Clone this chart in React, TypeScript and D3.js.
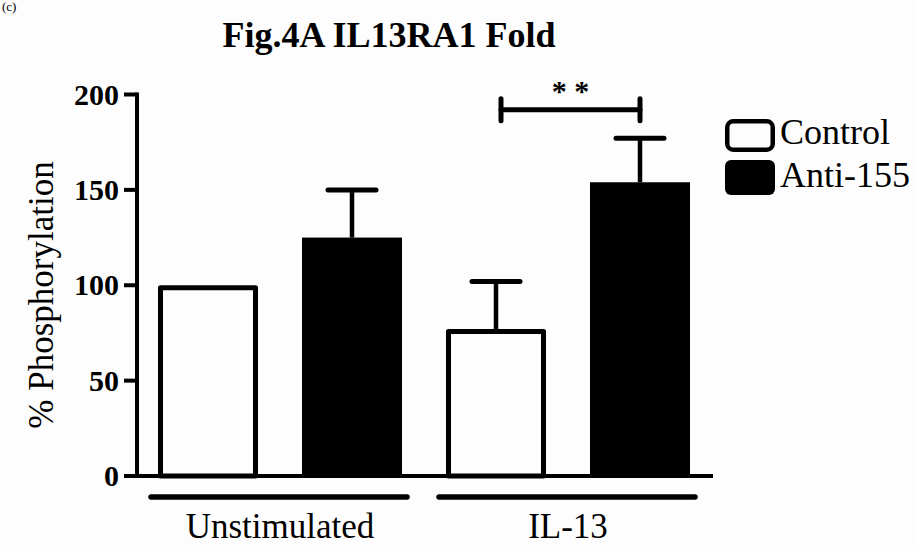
import React, { useEffect, useRef } from "react";
import * as d3 from "d3";

// chart data
const categories = ["Unstimulated", "IL-13"];
const seriesNames = ["Control", "Anti-155"];
const controlMeans = [100, 77];
const controlSem = [0, 25];
const antiMeans = [125, 154];
const antiSem = [25, 23];
const yTicks = [0, 50, 100, 150, 200];
const sigLevel = 192;
const sigLabel = "* *";

const FONT = "'Liberation Serif', 'Times New Roman', serif";

function App() {
    const ref = useRef<SVGSVGElement | null>(null);

    useEffect(() => {
        drawChart();
    }, []);

    function drawChart() {
        const svg = d3.select(ref.current);
        svg.selectAll("*").remove();

        const width = 918;
        const height = 546;

        const bars = categories.flatMap((c, i) => [
            { key: c + "|" + seriesNames[0], cat: c, series: 0, mean: controlMeans[i], sem: controlSem[i] },
            { key: c + "|" + seriesNames[1], cat: c, series: 1, mean: antiMeans[i], sem: antiSem[i] },
        ]);

        const x = d3.scaleBand<string>()
            .domain(bars.map(d => d.key))
            .range([136, 712])
            .paddingInner(0.3056)
            .paddingOuter(0.1528);

        const y = d3.scaleLinear()
            .domain([0, 200])
            .range([476, 94.5]);

        const bw = x.bandwidth();

        svg.attr("width", width).attr("height", height);

        svg.append("rect")
            .attr("width", width)
            .attr("height", height)
            .attr("fill", "#fdfdfd");

        // panel letter in the corner
        svg.append("text")
            .attr("x", 2)
            .attr("y", 11)
            .style("font-family", FONT)
            .style("font-size", "13px")
            .text("(c)");

        // Title
        svg.append("text")
            .attr("x", 389)
            .attr("y", 47)
            .attr("text-anchor", "middle")
            .style("font-family", FONT)
            .style("font-size", "36px")
            .style("font-weight", "bold")
            .text("Fig.4A IL13RA1  Fold");

        // Bars
        const g = svg.append("g");

        g.selectAll("rect.bar")
            .data(bars)
            .enter()
            .append("rect")
            .attr("class", "bar")
            .attr("x", d => d.series === 0 ? x(d.key)! + 2.5 : x(d.key)!)
            .attr("y", d => d.series === 0 ? y(d.mean) + 2.5 : y(d.mean))
            .attr("width", d => d.series === 0 ? bw - 5 : bw)
            .attr("height", d => d.series === 0 ? y(0) - y(d.mean) - 2.5 : y(0) - y(d.mean))
            .attr("fill", d => d.series === 0 ? "#fdfdfd" : "#000")
            .attr("stroke", d => d.series === 0 ? "#000" : "none")
            .attr("stroke-width", 5)
            .attr("stroke-linejoin", "round");

        // Error bars
        const errs = bars.filter(d => d.sem > 0);

        g.selectAll("line.stem")
            .data(errs)
            .enter()
            .append("line")
            .attr("x1", d => x(d.key)! + bw / 2)
            .attr("x2", d => x(d.key)! + bw / 2)
            .attr("y1", d => y(d.mean))
            .attr("y2", d => y(d.mean + d.sem))
            .attr("stroke", "#000")
            .attr("stroke-width", 4.5);

        g.selectAll("line.cap")
            .data(errs)
            .enter()
            .append("line")
            .attr("x1", d => x(d.key)! + bw / 2 - 24)
            .attr("x2", d => x(d.key)! + bw / 2 + 24)
            .attr("y1", d => y(d.mean + d.sem))
            .attr("y2", d => y(d.mean + d.sem))
            .attr("stroke", "#000")
            .attr("stroke-width", 5)
            .attr("stroke-linecap", "round");

        // Axes
        svg.append("line")
            .attr("x1", 137).attr("x2", 137)
            .attr("y1", y(200) - 2).attr("y2", y(0) + 2)
            .attr("stroke", "#000").attr("stroke-width", 4);

        svg.append("line")
            .attr("x1", 135).attr("x2", 713)
            .attr("y1", y(0)).attr("y2", y(0))
            .attr("stroke", "#000").attr("stroke-width", 4);

        const ticks = svg.append("g");
        ticks.selectAll("line")
            .data(yTicks)
            .enter()
            .append("line")
            .attr("x1", 124).attr("x2", 137)
            .attr("y1", d => y(d)).attr("y2", d => y(d))
            .attr("stroke", "#000").attr("stroke-width", 4);

        ticks.selectAll("text")
            .data(yTicks)
            .enter()
            .append("text")
            .attr("x", 119)
            .attr("y", d => y(d) + 10)
            .attr("text-anchor", "end")
            .style("font-family", FONT)
            .style("font-size", "30px")
            .style("font-weight", "bold")
            .text(d => d);

        // Y label
        svg.append("text")
            .attr("transform", "translate(53,295) rotate(-90)")
            .attr("text-anchor", "middle")
            .style("font-family", FONT)
            .style("font-size", "35px")
            .text("% Phosphorylation");

        // Group underlines and labels
        const groups = categories.map(c => {
            const first = x(c + "|" + seriesNames[0])!;
            const last = x(c + "|" + seriesNames[1])!;
            return { cat: c, x1: first - 7, x2: last + bw + 5, mid: (first + last + bw) / 2 };
        });

        svg.selectAll("line.group")
            .data(groups)
            .enter()
            .append("line")
            .attr("x1", d => d.x1).attr("x2", d => d.x2)
            .attr("y1", 497).attr("y2", 497)
            .attr("stroke", "#000").attr("stroke-width", 5.5)
            .attr("stroke-linecap", "round");

        svg.selectAll("text.group")
            .data(groups)
            .enter()
            .append("text")
            .attr("x", d => d.mid)
            .attr("y", 538)
            .attr("text-anchor", "middle")
            .style("font-family", FONT)
            .style("font-size", "35px")
            .text(d => d.cat);

        // Significance bracket on IL-13
        const sx1 = x(categories[1] + "|" + seriesNames[0])! + bw / 2 + 5;
        const sx2 = x(categories[1] + "|" + seriesNames[1])! + bw / 2;
        const sy = y(sigLevel);
        const sig = svg.append("g")
            .attr("stroke", "#000")
            .attr("stroke-width", 5)
            .attr("stroke-linecap", "round");
        sig.append("line").attr("x1", sx1).attr("x2", sx2).attr("y1", sy).attr("y2", sy);
        sig.append("line").attr("x1", sx1).attr("x2", sx1).attr("y1", sy - 11).attr("y2", sy + 11);
        sig.append("line").attr("x1", sx2).attr("x2", sx2).attr("y1", sy - 11).attr("y2", sy + 11);

        svg.append("text")
            .attr("x", (sx1 + sx2) / 2)
            .attr("y", 101)
            .attr("text-anchor", "middle")
            .style("font-family", FONT)
            .style("font-size", "30px")
            .style("font-weight", "bold")
            .text(sigLabel);

        // Legend
        const legend = svg.append("g").attr("transform", "translate(725,119)");
        legend.selectAll("rect")
            .data(seriesNames)
            .enter()
            .append("rect")
            .attr("x", (d, i) => i === 0 ? 2.25 : 0)
            .attr("y", (d, i) => i === 0 ? 2.25 : 41)
            .attr("width", (d, i) => i === 0 ? 45.5 : 50)
            .attr("height", (d, i) => i === 0 ? 28.5 : 35)
            .attr("rx", 6)
            .attr("fill", (d, i) => i === 0 ? "#fdfdfd" : "#000")
            .attr("stroke", (d, i) => i === 0 ? "#000" : "none")
            .attr("stroke-width", 4.5);

        legend.selectAll("text")
            .data(seriesNames)
            .enter()
            .append("text")
            .attr("x", 55)
            .attr("y", (d, i) => i === 0 ? 25 : 68)
            .style("font-family", FONT)
            .style("font-size", "36px")
            .text(d => d);
    }

    return (
        <svg
            ref={ref}
            width={918}
            height={546}
            style={{ position: "absolute", left: 0, top: 0, display: "block" }}
        />
    );
}

export default App;
